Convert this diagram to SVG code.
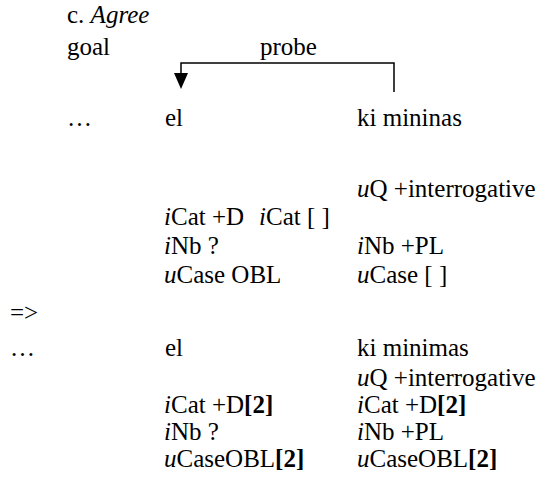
<svg xmlns="http://www.w3.org/2000/svg" width="546" height="497" viewBox="0 0 546 497">
<style>
text{font-family:"Liberation Serif","Times New Roman",serif;font-size:25px;fill:#000}
.i{font-style:italic}
.b{font-weight:bold}
.c{stroke:#000;stroke-width:1.5;fill:none}
</style>
<rect width="546" height="497" fill="#fff"/>
<g id="title">
<text x="67" y="23">c. <tspan class="i">Agree</tspan></text>
<text x="67" y="55">goal</text>
</g>
<g id="connectors">
<polyline class="c" points="394,92 394,63 181,63 181,75"/>
<polygon points="174,73 188,73 181,89" fill="#000"/>
<text x="260" y="55">probe</text>
</g>
<g id="before">
<text x="67" y="126">…</text>
<g id="goal1">
<text x="165" y="126">el</text>
<text x="164" y="225"><tspan class="i">i</tspan>Cat +D</text>
<text x="164" y="254"><tspan class="i">i</tspan>Nb ?</text>
<text x="164" y="283"><tspan class="i">u</tspan>Case OBL</text>
</g>
<g id="probe1">
<text x="357" y="126">ki mininas</text>
<text x="357" y="197"><tspan class="i">u</tspan>Q +interrogative</text>
<text x="259" y="225"><tspan class="i">i</tspan>Cat [ ]</text>
<text x="357" y="254"><tspan class="i">i</tspan>Nb +PL</text>
<text x="357" y="283"><tspan class="i">u</tspan>Case [ ]</text>
</g>
</g>
<text x="10" y="321">=&gt;</text>
<g id="after">
<text x="10" y="356">…</text>
<g id="goal2">
<text x="165" y="356">el</text>
<text x="164" y="413"><tspan class="i">i</tspan>Cat +D<tspan class="b">[2]</tspan></text>
<text x="164" y="440"><tspan class="i">i</tspan>Nb ?</text>
<text x="164" y="467"><tspan class="i">u</tspan>CaseOBL<tspan class="b">[2]</tspan></text>
</g>
<g id="probe2">
<text x="357" y="356">ki minimas</text>
<text x="357" y="386"><tspan class="i">u</tspan>Q +interrogative</text>
<text x="357" y="413"><tspan class="i">i</tspan>Cat +D<tspan class="b">[2]</tspan></text>
<text x="357" y="440"><tspan class="i">i</tspan>Nb +PL</text>
<text x="357" y="467"><tspan class="i">u</tspan>CaseOBL<tspan class="b">[2]</tspan></text>
</g>
</g>
</svg>
